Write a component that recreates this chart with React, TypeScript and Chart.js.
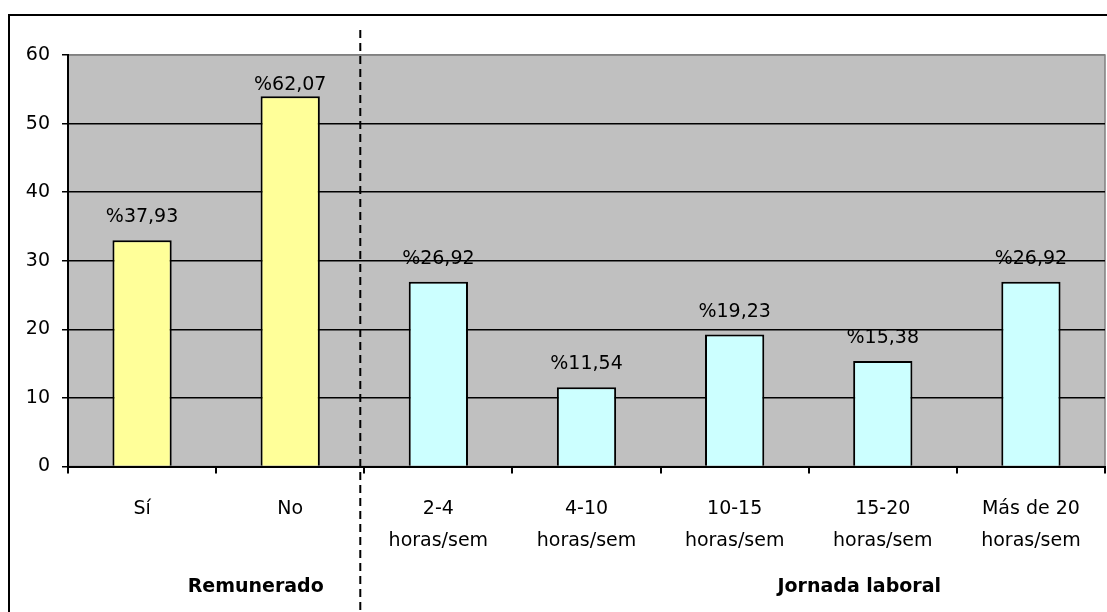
import React, { useEffect, useRef } from "react";
import { Chart, registerables } from "chart.js";

Chart.register(...registerables);

const categories: string[][] = [
  ["Sí"],
  ["No"],
  ["2-4", "horas/sem"],
  ["4-10", "horas/sem"],
  ["10-15", "horas/sem"],
  ["15-20", "horas/sem"],
  ["Más de 20", "horas/sem"],
];
const barValues = [33, 54, 26.92, 11.54, 19.23, 15.38, 26.92];
const labelValues = ["37,93", "62,07", "26,92", "11,54", "19,23", "15,38", "26,92"];
const barGroup = [0, 0, 1, 1, 1, 1, 1];
const groupNames = ["Remunerado", "Jornada laboral"];
const groupColors = ["#FFFF99", "#CCFFFF"];
const yTicks = [0, 10, 20, 30, 40, 50, 60];

const FONT = "'DejaVu Sans', Verdana, sans-serif";

const decorPlugin = {
  id: "decor",
  beforeDraw(chart: any) {
    const { ctx, chartArea } = chart;
    ctx.save();
    ctx.fillStyle = "#ffffff";
    ctx.fillRect(0, 0, chart.width, chart.height);
    ctx.strokeStyle = "#000000";
    ctx.lineWidth = 2;
    ctx.strokeRect(9, 15, chart.width + 20, chart.height + 20);
    ctx.fillStyle = "#C0C0C0";
    ctx.fillRect(chartArea.left, chartArea.top, chartArea.right - chartArea.left, chartArea.bottom - chartArea.top);
    ctx.strokeStyle = "#808080";
    ctx.lineWidth = 1.5;
    ctx.strokeRect(chartArea.left, chartArea.top, chartArea.right - chartArea.left, chartArea.bottom - chartArea.top);
    ctx.restore();
  },
  afterDraw(chart: any) {
    const { ctx, chartArea } = chart;
    const meta = chart.getDatasetMeta(0);
    const xs = chart.scales.x;
    ctx.save();
    // value labels
    ctx.fillStyle = "#000000";
    ctx.font = `19px ${FONT}`;
    ctx.textAlign = "center";
    ctx.textBaseline = "alphabetic";
    meta.data.forEach((bar: any, i: number) => {
      const y = Math.max(bar.y - 18, chartArea.top + 35);
      ctx.fillText("%" + labelValues[i], bar.x, y);
    });
    // dashed separator between groups
    const sepX = (xs.getPixelForValue(1) + xs.getPixelForValue(2)) / 2 - 4;
    ctx.strokeStyle = "#000000";
    ctx.lineWidth = 2;
    ctx.setLineDash([8, 5]);
    ctx.beginPath();
    ctx.moveTo(sepX, 30);
    ctx.lineTo(sepX, chart.height);
    ctx.stroke();
    ctx.setLineDash([]);
    // group names
    ctx.font = `bold 19px ${FONT}`;
    ctx.textBaseline = "middle";
    const w = chartArea.right - chartArea.left;
    const fr = [0.181, 0.763];
    groupNames.forEach((g, i) => {
      ctx.fillText(g, chartArea.left + fr[i] * w, 587);
    });
    ctx.restore();
  },
};

export default function App() {
  const ref = useRef<HTMLCanvasElement | null>(null);
  useEffect(() => {
    if (!ref.current) return;
    const chart = new Chart(ref.current, {
      type: "bar",
      data: {
        labels: categories,
        datasets: [
          {
            data: barValues,
            backgroundColor: barValues.map((_, i) => groupColors[barGroup[i]]),
            borderColor: "#000000",
            borderWidth: 2,
            barPercentage: 0.4,
            categoryPercentage: 1,
          },
        ],
      },
      options: {
        responsive: false,
        animation: false,
        devicePixelRatio: 1,
        layout: { padding: { left: 0, top: 55, right: 2, bottom: 0 } },
        plugins: { legend: { display: false }, tooltip: { enabled: false } },
        scales: {
          x: {
            offset: true,
            grid: {
              offset: true,
              drawOnChartArea: false,
              drawTicks: true,
              tickLength: 7,
              color: "#000000",
              lineWidth: 2,
            },
            border: { display: true, color: "#000000", width: 2 },
            ticks: {
              color: "#000000",
              font: { family: FONT, size: 19, lineHeight: 1.67 },
              padding: 20,
              maxRotation: 0,
              autoSkip: false,
            },
            afterFit: (s: any) => {
              s.height = 612 - 466.5;
            },
          },
          y: {
            min: 0,
            max: 60,
            afterBuildTicks: (s: any) => {
              s.ticks = yTicks.map((v) => ({ value: v }));
            },
            grid: {
              color: (c: any) => (c.tick && c.tick.value === 60 ? "#808080" : "#000000"),
              lineWidth: 1.5,
              drawTicks: true,
              tickLength: 6,
              tickColor: "#000000",
            },
            border: { display: true, color: "#000000", width: 2 },
            ticks: {
              color: "#000000",
              font: { family: FONT, size: 19 },
              padding: 12,
            },
            afterFit: (s: any) => {
              s.width = 68;
            },
          },
        },
      },
      plugins: [decorPlugin],
    });
    return () => chart.destroy();
  }, []);
  return (
    <div style={{ position: "fixed", left: 0, top: 0, width: 1107, height: 612 }}>
      <canvas ref={ref} width={1107} height={612} style={{ width: 1107, height: 612 }} />
    </div>
  );
}
